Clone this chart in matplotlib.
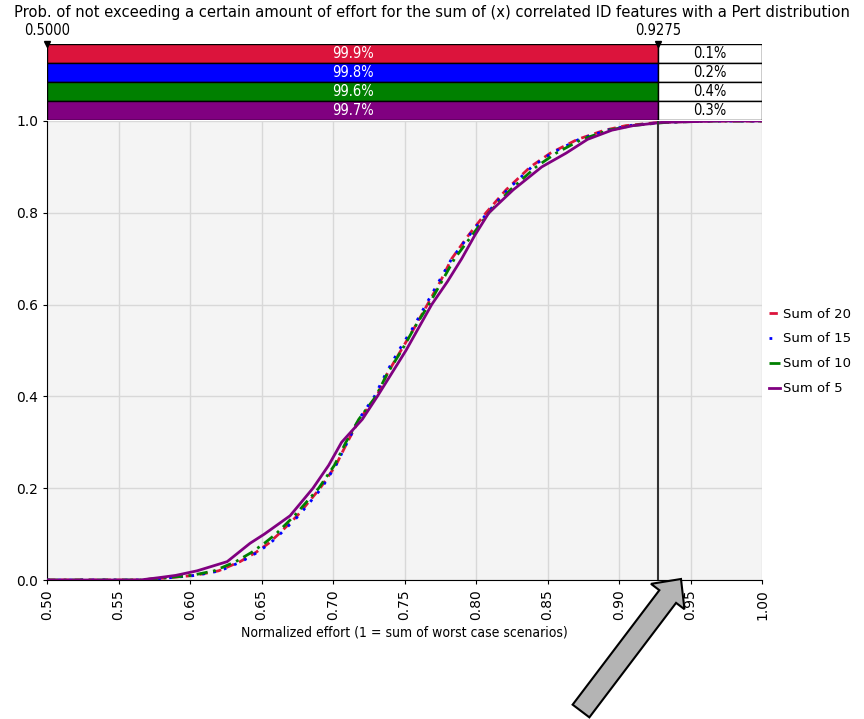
import matplotlib
matplotlib.use("Agg")
import matplotlib.pyplot as plt
from matplotlib.patches import FancyArrow
from matplotlib.transforms import IdentityTransform
from matplotlib.ticker import FormatStrFormatter
import numpy as np

# cumulative probability levels shared by all series
prob = [0.0, 0.005, 0.01, 0.02, 0.04, 0.06, 0.08, 0.10, 0.14, 0.20, 0.25, 0.30,
        0.35, 0.40, 0.45, 0.50, 0.55, 0.60, 0.65, 0.70, 0.75, 0.80, 0.85, 0.90,
        0.93, 0.96, 0.98, 0.99, 0.997, 1.0]

# normalized effort reached at each probability level
effort_20 = [0.565, 0.585, 0.603, 0.620, 0.635, 0.646, 0.655, 0.662, 0.675, 0.691,
             0.702, 0.710, 0.7185, 0.7305, 0.738, 0.7475, 0.757, 0.766, 0.775, 0.783,
             0.7945, 0.807, 0.821, 0.838, 0.852, 0.871, 0.890, 0.905, 0.928, 0.960]
effort_15 = [0.566, 0.586, 0.604, 0.621, 0.636, 0.647, 0.656, 0.663, 0.676, 0.692,
             0.702, 0.710, 0.718, 0.729, 0.737, 0.746, 0.756, 0.765, 0.774, 0.783,
             0.795, 0.808, 0.822, 0.839, 0.853, 0.872, 0.892, 0.907, 0.930, 0.962]
effort_10 = [0.565, 0.584, 0.601, 0.617, 0.632, 0.643, 0.652, 0.660, 0.673, 0.690,
             0.701, 0.709, 0.718, 0.730, 0.738, 0.748, 0.757, 0.767, 0.776, 0.785,
             0.797, 0.809, 0.824, 0.842, 0.856, 0.874, 0.893, 0.909, 0.933, 0.965]
effort_5 = [0.565, 0.578, 0.590, 0.605, 0.626, 0.634, 0.642, 0.652, 0.670, 0.686,
            0.697, 0.706, 0.7205, 0.731, 0.741, 0.751, 0.760, 0.769, 0.780, 0.790,
            0.799, 0.809, 0.826, 0.846, 0.863, 0.878, 0.895, 0.910, 0.930, 0.970]

series_names = ["Sum of 20", "Sum of 15", "Sum of 10", "Sum of 5"]
series_colors = ["#dc143c", "#0000ff", "#008000", "#800080"]
series_styles = [(0, (3, 2)), (0, (1, 3)), (0, (4, 2, 1, 2)), "-"]
series_widths = [2.0, 2.0, 2.0, 2.0]

# probability below / above the selected cut-off
cut_low, cut_high = 0.5000, 0.9275
pct_below = [99.9, 99.8, 99.6, 99.7]
pct_above = [0.1, 0.2, 0.4, 0.3]

plt.rcParams["font.family"] = ["DejaVu Sans"]

W, H = 864, 719
fig = plt.figure(figsize=(W / 100, H / 100), dpi=100)

def px_axes(x0, y0, x1, y1):
    return fig.add_axes([x0 / W, 1 - y1 / H, (x1 - x0) / W, (y1 - y0) / H])

ax = px_axes(47, 121, 762, 580)
ax.set_facecolor("#f4f4f4")

for eff, name, col, ls, lw in zip([effort_20, effort_15, effort_10, effort_5],
                                  series_names, series_colors, series_styles, series_widths):
    xs = [0.5] + eff + [1.0]
    ys = [0.0] + prob + [1.0]
    ax.plot(xs, ys, color=col, linestyle=ls, lw=lw, label=name, zorder=3)

ax.axvline(cut_high, color="#333333", lw=1.5, zorder=4)

ax.set_xlim(0.5, 1.0)
ax.set_ylim(0.0, 1.0)
ax.set_xticks(np.arange(0.5, 1.001, 0.05))
ax.set_yticks(np.arange(0.0, 1.001, 0.2))
ax.xaxis.set_major_formatter(FormatStrFormatter("%.2f"))
ax.yaxis.set_major_formatter(FormatStrFormatter("%.1f"))
ax.tick_params(axis="x", labelrotation=90, labelsize=10, length=3)
ax.tick_params(axis="y", labelsize=10, length=3)
ax.grid(True, color="#d8d8d8", lw=1)
ax.set_axisbelow(True)
for s in ["top", "right"]:
    ax.spines[s].set_visible(False)
ax.set_xlabel("Normalized effort (1 = sum of worst case scenarios)",
              fontsize=10, fontstretch="condensed", labelpad=4)

leg = ax.legend(loc="center left", bbox_to_anchor=(1.0, 0.498), frameon=False,
                fontsize=9.5, handlelength=0.8, handletextpad=0.25, labelspacing=0.9,
                borderaxespad=0.15)

# probability bars above the plot
bx = px_axes(47, 44, 762, 120)
bx.set_xlim(0.5, 1.0)
bx.set_ylim(len(pct_below), 0)
for i, (lo, hi, col) in enumerate(zip(pct_below, pct_above, series_colors)):
    bx.barh(i + 0.5, cut_high - cut_low, left=cut_low, height=1.0,
            color=col, edgecolor="black", lw=1)
    bx.barh(i + 0.5, 1.0 - cut_high, left=cut_high, height=1.0,
            color="white", edgecolor="black", lw=1)
    bx.text((cut_low + cut_high) / 2, i + 0.5, f"{lo:.1f}%", color="white",
            ha="center", va="center", fontsize=10.5, fontstretch="condensed")
    bx.text((cut_high + 1.0) / 2, i + 0.5, f"{hi:.1f}%", color="black",
            ha="center", va="center", fontsize=10.5, fontstretch="condensed")
bx.axis("off")

for xv in [cut_low, cut_high]:
    bx.plot([xv], [0], marker="v", color="black", ms=5, clip_on=False)
    bx.text(xv, -0.3, f"{xv:.4f}", ha="center", va="bottom", fontsize=10.5,
            fontstretch="condensed")

fig.text(0.5 * (18 + 846) / W, 1 - 13 / H,
         "Prob. of not exceeding a certain amount of effort for the sum of (x) "
         "correlated ID features with a Pert distribution",
         ha="center", va="center", fontsize=11.8, fontstretch="condensed")

# pointer arrow towards the cut-off line
arrow = FancyArrow(581, 8, 100, 132, width=21, head_width=42, head_length=22,
                   length_includes_head=True, facecolor="#b4b4b4",
                   edgecolor="black", lw=1.5, transform=IdentityTransform())
fig.add_artist(arrow)

fig.savefig("out.png", dpi=100)
